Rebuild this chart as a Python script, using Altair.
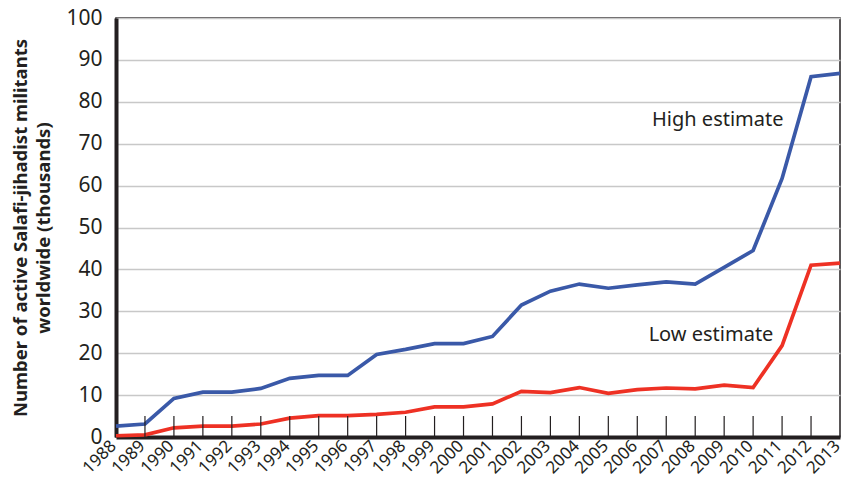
import altair as alt
import pandas as pd

years = list(range(1988, 2014))
high = [2.6, 3.1, 9.2, 10.7, 10.7, 11.6, 14.0, 14.7, 14.7, 19.7, 20.9, 22.3, 22.3, 24.0,
        31.5, 34.8, 36.5, 35.5, 36.3, 37.0, 36.5, 40.5, 44.5, 61.7, 86.0, 86.8]
low = [0.3, 0.5, 2.2, 2.6, 2.6, 3.1, 4.5, 5.1, 5.1, 5.4, 5.9, 7.2, 7.2, 7.9,
       10.9, 10.6, 11.8, 10.4, 11.3, 11.7, 11.5, 12.4, 11.8, 21.8, 41.0, 41.5]
series_names = ["High estimate", "Low estimate"]
series_colors = ["#3a59a8", "#ee3124"]
inner_tick_years = list(range(1989, 2013))
label_x = [2011.05, 2010.7]
label_y = [75.6, 24.4]
y_ticks = list(range(0, 101, 10))

FONT = "Noto Sans"
INK = "#231f20"

df = pd.DataFrame({
    "year": years * 2,
    "value": high + low,
    "series": [series_names[0]] * len(years) + [series_names[1]] * len(years),
})
ticks_df = pd.DataFrame({"year": inner_tick_years, "y0": [0] * len(inner_tick_years),
                         "y1": [5] * len(inner_tick_years)})
labels_df = pd.DataFrame({"x": label_x, "y": label_y, "text": series_names})

xscale = alt.Scale(domain=[1988, 2013], nice=False, zero=False)
yscale = alt.Scale(domain=[0, 100], nice=False)
xaxis = alt.Axis(values=years, format="d", title=None)
yaxis = alt.Axis(values=y_ticks, title=["Number of active Salafi-jihadist militants",
                                         "worldwide (thousands)"])

lines = alt.Chart(df).mark_line(strokeWidth=3.7, strokeJoin="miter").encode(
    x=alt.X("year:Q", scale=xscale, axis=xaxis),
    y=alt.Y("value:Q", scale=yscale, axis=yaxis),
    color=alt.Color("series:N", scale=alt.Scale(domain=series_names, range=series_colors),
                    legend=None),
)

inner_ticks = alt.Chart(ticks_df).mark_rule(color=INK, strokeWidth=1.2).encode(
    x=alt.X("year:Q", scale=xscale, axis=xaxis),
    y=alt.Y("y0:Q", scale=yscale, axis=yaxis),
    y2="y1:Q",
)

texts = alt.Chart(labels_df).mark_text(align="right", baseline="middle", fontSize=20,
                                       font=FONT, color=INK).encode(
    x=alt.X("x:Q", scale=xscale, axis=xaxis),
    y=alt.Y("y:Q", scale=yscale, axis=yaxis),
    text="text:N",
)

chart = alt.layer(lines, inner_ticks, texts).properties(
    width=724, height=419,
    background="white",
    autosize=alt.AutoSizeParams(type="none"),
    padding={"left": 108, "top": 10, "right": 3, "bottom": 49},
).configure_view(
    stroke=INK, strokeWidth=1.5
).configure_axis(
    ticks=False, domainColor=INK, domainWidth=4, labelColor=INK, labelFont=FONT,
    labelOverlap=False, labelFlush=False, labelBound=False,
).configure_axisX(
    labelAngle=-45, labelAlign="right", labelBaseline="middle", labelPadding=6,
    labelOffset=-3, labelFontSize=17, grid=False,
).configure_axisY(
    labelFontSize=21, labelPadding=14, grid=True, gridColor="#c8c8c8", gridWidth=1.5,
    titleFontSize=18.5, titleFont=FONT, titleFontWeight="bold", titleColor=INK,
    titlePadding=12, titleLineHeight=23,
)

chart.save("out.html", embed_options={"renderer": "svg", "actions": False})
